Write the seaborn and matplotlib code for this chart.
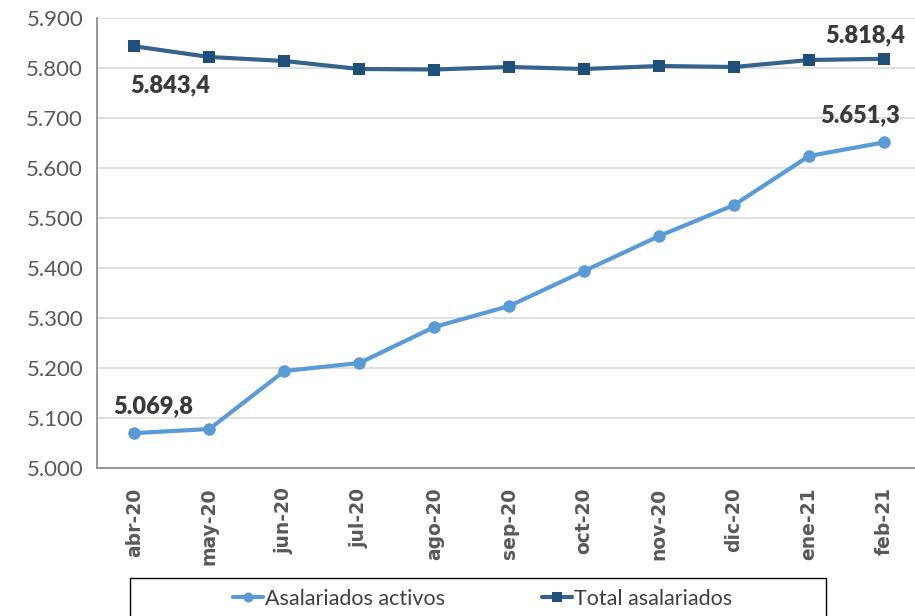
import numpy as np
import pandas as pd
import matplotlib
matplotlib.use("Agg")
import matplotlib.pyplot as plt
import matplotlib.patches as mpatches
import seaborn as sns
from matplotlib.ticker import FuncFormatter, FixedLocator

meses = ["abr-20", "may-20", "jun-20", "jul-20", "ago-20", "sep-20",
         "oct-20", "nov-20", "dic-20", "ene-21", "feb-21"]
activos = [5069.8, 5078, 5194, 5210, 5282, 5324, 5394, 5464, 5526, 5624, 5651.3]
total = [5843.4, 5822, 5814, 5798, 5797, 5802, 5798, 5804, 5802, 5816, 5818.4]

def es_num(v, dec=0):
    s = f"{v:,.{dec}f}"
    return s.replace(",", "X").replace(".", ",").replace("X", ".")

sns.set_style("white")
plt.rcParams['font.family'] = ['Lato', 'DejaVu Sans']

df = pd.DataFrame({"mes": meses, "activos": activos, "total": total})

fig = plt.figure(figsize=(9.15, 6.16), dpi=100)
ax = fig.add_axes([97 / 915, 1 - 468 / 616, (921.5 - 97) / 915, 450 / 616])

c_act = "#5B9BD5"
c_tot_line = "#36628C"
c_tot_mark = "#1F4E79"

sns.lineplot(data=df, x="mes", y="activos", ax=ax, color=c_act, linewidth=3,
             marker="o", markersize=9, markeredgewidth=0, label="Asalariados activos",
             sort=False)
sns.lineplot(data=df, x="mes", y="total", ax=ax, color=c_tot_line, linewidth=3,
             marker="s", markersize=9, markerfacecolor=c_tot_mark,
             markeredgecolor=c_tot_mark, markeredgewidth=0, label="Total asalariados",
             sort=False)

ax.set_ylim(5000, 5900)
ax.set_xlim(-0.5, len(meses) - 0.5)
ax.set_yticks(np.arange(5000, 5901, 100))
ax.yaxis.set_major_formatter(FuncFormatter(lambda v, p: es_num(v)))
ax.grid(axis="y", color="#D9D9D9", linewidth=1.2)
ax.set_axisbelow(True)
ax.set_xlabel("")
ax.set_ylabel("")

for s in ["top", "right"]:
    ax.spines[s].set_visible(False)
ax.spines["left"].set_color("#868686")
ax.spines["bottom"].set_color("#868686")
ax.spines["left"].set_linewidth(1.2)
ax.spines["bottom"].set_linewidth(1.2)

ax.tick_params(axis="y", labelsize=16, labelcolor="#595959", length=0, pad=10)
ax.tick_params(axis="x", which="major", length=0, pad=14)
ax.set_xticks(range(len(meses)))
ax.set_xticklabels(meses, rotation=90, fontweight="bold", fontsize=13.5,
                   color="#595959", family="DejaVu Sans")
ax.xaxis.set_minor_locator(FixedLocator(np.arange(-0.5, len(meses), 1.0)))
ax.tick_params(axis="x", which="minor", length=8, color="#868686", width=1.2,
               direction="out")

lab_kw = dict(textcoords="offset pixels", ha="center", va="center",
              fontsize=17, fontweight="heavy", color="#3A3A3A")
ax.annotate(es_num(total[0], 1), (0, total[0]), xytext=(36, -39), **lab_kw)
ax.annotate(es_num(total[-1], 1), (len(meses) - 1, total[-1]), xytext=(-19, 23), **lab_kw)
ax.annotate(es_num(activos[-1], 1), (len(meses) - 1, activos[-1]), xytext=(-24, 27), **lab_kw)
ax.annotate(es_num(activos[0], 1), (0, activos[0]), xytext=(19, 27), **lab_kw)

# legend box, cut by the bottom edge of the picture
box = mpatches.Rectangle((130 / 915, -0.1), (826 - 130) / 915, (616 - 578) / 616 + 0.1,
                         transform=fig.transFigure, fill=False, edgecolor="#000000",
                         linewidth=1.0, clip_on=False)
fig.add_artist(box)

leg = ax.legend(loc="center left", ncol=2, frameon=False,
                bbox_to_anchor=(222 / 915, 1 - 599 / 616),
                bbox_transform=fig.transFigure,
                prop={"family": ["Liberation Sans Narrow", "Lato"], "size": 15.5},
                handlelength=1.4, handletextpad=0.1, borderpad=0,
                columnspacing=4.5, markerscale=0.8)
for t in leg.get_texts():
    t.set_color("#404040")

fig.savefig("out.png", dpi=100)
